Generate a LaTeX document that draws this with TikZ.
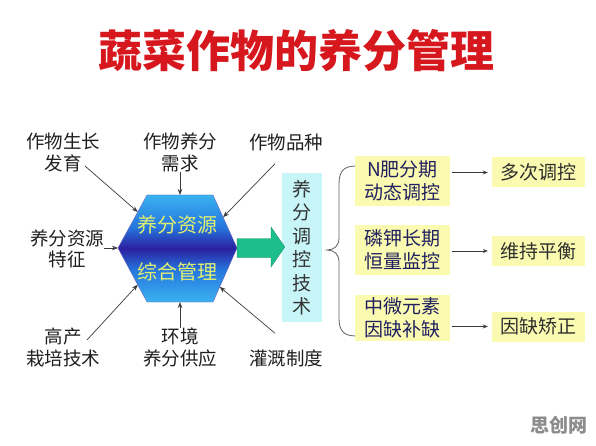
\documentclass[tikz,border=0pt]{standalone}
\usepackage{fontspec}
\setmainfont{Noto Sans CJK SC}
\usetikzlibrary{arrows.meta,calc}
\definecolor{titlered}{RGB}{214,24,30}
\definecolor{hexlight}{RGB}{58,178,240}
\definecolor{hexmid}{RGB}{38,118,222}
\definecolor{hexdark}{RGB}{42,32,160}
\definecolor{hextext}{RGB}{226,240,112}
\definecolor{arrowgreen}{RGB}{28,190,140}
\definecolor{techcyan}{RGB}{200,245,248}
\definecolor{boxyellow}{RGB}{250,250,176}
\definecolor{navytext}{RGB}{32,32,96}
\definecolor{linegray}{RGB}{60,60,60}
\pgfdeclareverticalshading{hexshade}{100bp}{color(0bp)=(hexlight); color(25bp)=(hexlight); color(40bp)=(hexmid); color(50bp)=(hexdark); color(60bp)=(hexmid); color(75bp)=(hexlight); color(100bp)=(hexlight)}
\tikzset{
  lab/.style={inner sep=0pt, align=center, text=black!88, font=\fontsize{18.5}{21.5}\selectfont},
  feed/.style={draw=linegray, line width=0.7pt, -{Stealth[length=6pt,width=4.5pt]}},
  techbox/.style={fill=techcyan, minimum width=40pt, minimum height=149pt, inner sep=0pt, align=center, text=black!80, font=\fontsize{19}{23.5}\selectfont},
  midbox/.style={fill=boxyellow, minimum width=95pt, inner sep=0pt, align=center, text=navytext, font=\fontsize{19}{23}\selectfont},
  resbox/.style={fill=boxyellow, minimum width=93pt, minimum height=30pt, inner sep=0pt, text=black!82, font=\fontsize{19}{22}\selectfont},
  outarrow/.style={draw=linegray, line width=0.7pt, -{Stealth[length=5pt,width=4pt]}, shorten >=4pt, shorten <=2pt},
  hexlab/.style={inner sep=0pt, text=hextext, font=\fontsize{20}{22}\selectfont}
}
\begin{document}
\begin{tikzpicture}[x=1pt,y=-1pt]
\useasboundingbox (0,0) rectangle (596,446);
\fill[white] (0,0) rectangle (596,446);

% title
\node[font=\fontsize{44}{48}\selectfont\bfseries, text=titlered] (title) at (296,51) {蔬菜作物的养分管理};

% hexagon
\coordinate (hTL) at (147,195);
\coordinate (hTR) at (213,195);
\coordinate (hR) at (237,248);
\coordinate (hBR) at (213,302);
\coordinate (hBL) at (147,302);
\coordinate (hL) at (118,248);
\shade[shading=hexshade, draw=hexdark!70, line width=0.4pt] (hTL) -- (hTR) -- (hR) -- (hBR) -- (hBL) -- (hL) -- cycle;
\node[hexlab] (hex1) at (177,225) {养分资源};
\node[hexlab] (hex2) at (177,272) {综合管理};

% labels around
\node[lab] (lab1) at (63,152.5) {作物生长\\发育};
\node[lab] (lab2) at (180,152.5) {作物养分\\需求};
\node[lab] (lab3) at (286,142) {作物品种};
\node[lab] (lab4) at (67,249) {养分资源\\特征};
\node[lab] (lab5) at (63,347.5) {高产\\栽培技术};
\node[lab] (lab6) at (180,347.5) {环境\\养分供应};
\node[lab] (lab7) at (286,358) {灌溉制度};

% edge points on hexagon
\coordinate (e1) at ($(hL)!0.68!(hTL)$);
\coordinate (e2) at ($(hTL)!0.5!(hTR)$);
\coordinate (e3) at ($(hTR)!0.42!(hR)$);
\coordinate (e5) at ($(hL)!0.68!(hBL)$);
\coordinate (e6) at ($(hBL)!0.5!(hBR)$);
\coordinate (e7) at ($(hR)!0.72!(hBR)$);
% arrow starts
\coordinate (s1) at ($(lab1.south)+(22,-6)$);
\coordinate (s3) at ($(lab3.south)+(-11,13)$);
\coordinate (s5) at ($(lab5.north)+(24,12)$);
\coordinate (s7) at ($(lab7.north)+(-11,-16)$);

\draw[feed] (s1) -- (e1);
\draw[feed] (lab2.south) -- (e2);
\draw[feed] (s3) -- (e3);
\draw[feed] (lab4.east |- hL) -- (hL);
\draw[feed] (s5) -- (e5);
\draw[feed] (lab6.north) -- (e6);
\draw[feed] (s7) -- (e7);

% technique box
\node[techbox] (tech) at (302,247.5) {养\\分\\调\\控\\技\\术};

% green arrow
\fill[arrowgreen, draw=arrowgreen!70!black, line width=0.3pt]
  ($(hR)+(0,-9.5)$) -- ($(hR)+(34,-9.5)$) -- ($(hR)+(34,-21)$) -- ($(tech.west)+(3,-0.5)$)
  -- ($(hR)+(34,19)$) -- ($(hR)+(34,9.5)$) -- ($(hR)+(0,9.5)$) -- cycle;

% brace
\coordinate (bt) at (356,166);
\coordinate (bm) at (327,250);
\coordinate (bb) at (356,336);
\draw[gray!75!black, line width=0.8pt]
  (bt) .. controls (343,166) and (339,172) .. (339,184) -- (339,238)
  .. controls (339,246) and (334,250) .. (bm)
  .. controls (334,250) and (339,254) .. (339,262) -- (339,318)
  .. controls (339,330) and (343,336) .. (bb);

% middle boxes
\node[midbox, minimum height=50pt] (m1) at (402.5,181) {N肥分期\\动态调控};
\node[midbox, minimum height=50pt] (m2) at (402.5,249.5) {磷钾长期\\恒量监控};
\node[midbox, minimum height=46pt] (m3) at (402.5,318) {中微元素\\因缺补缺};

% result boxes
\node[resbox] (r1) at (538.5,172.5) {多次调控};
\node[resbox] (r2) at (538.5,251) {维持平衡};
\node[resbox] (r3) at (538.5,326.5) {因缺矫正};

\draw[outarrow] (m1.east |- r1) -- (r1.west);
\draw[outarrow] (m2.east |- r2) -- (r2.west);
\draw[outarrow] (m3.east |- r3) -- (r3.west);

% watermark
\node[font=\fontsize{19}{20}\selectfont\bfseries, text=black!45] (wm) at (559,425) {思创网};
\end{tikzpicture}
\end{document}
